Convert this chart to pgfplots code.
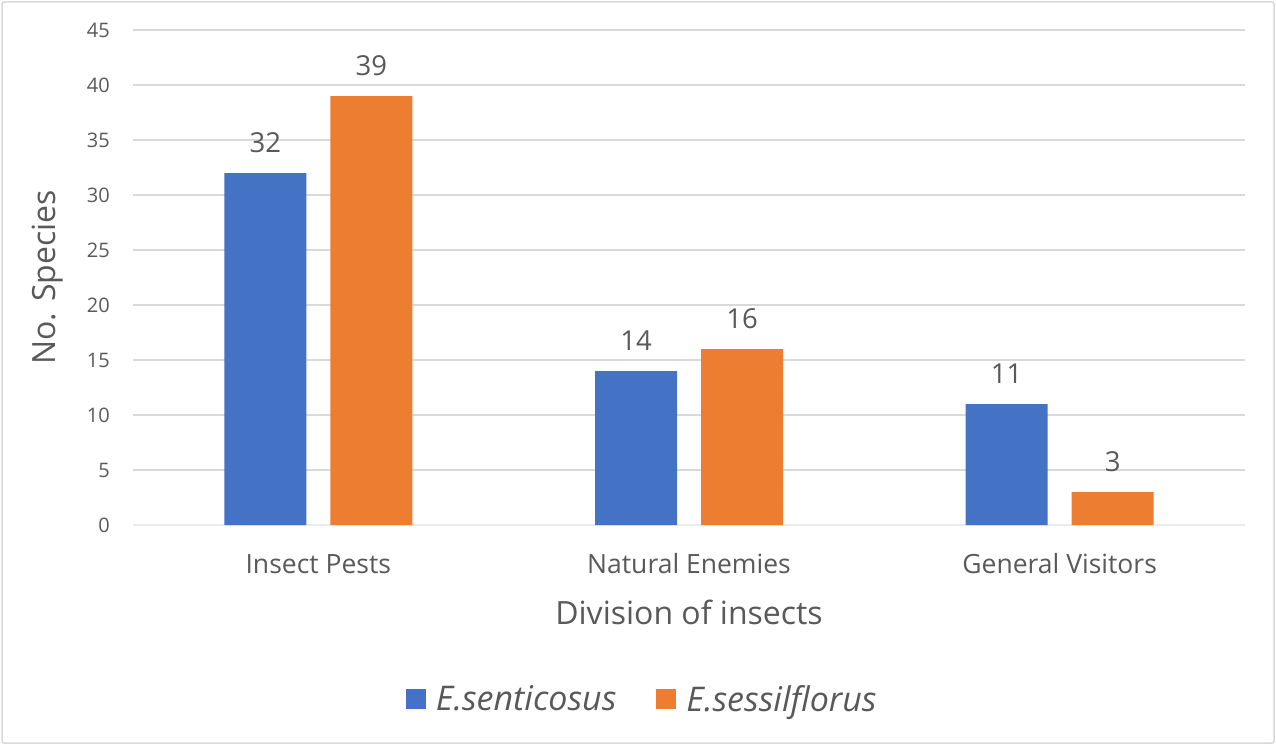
\documentclass[border=0pt]{standalone}
\usepackage{pgfplots}
\pgfplotsset{compat=1.18}
\usepackage{fontspec}
\setmainfont{Open Sans}

\definecolor{sblue}{HTML}{4472C4}
\definecolor{sorange}{HTML}{ED7D31}
\definecolor{txt}{HTML}{595959}
\definecolor{gridc}{HTML}{D9D9D9}

\begin{document}
\begin{tikzpicture}[x=1pt,y=1pt]
\path[use as bounding box] (0,0) rectangle (1276,745);
\draw[gridc, line width=1.5pt, rounded corners=2pt] (2,2) rectangle (1274,743);
\begin{axis}[
    at={(133pt,220pt)}, anchor=south west,
    scale only axis,
    width=1112pt, height=495pt,
    ybar=24pt, bar width=82pt,
    xmin=-0.5, xmax=2.5,
    ymin=0, ymax=45,
    xtick=data,
    xticklabels={Insect Pests,Natural Enemies,General Visitors},
    ytick={0,5,...,45},
    major tick length=0pt,
    axis line style={draw=none},
    ymajorgrids=true,
    grid style={gridc, line width=1.2pt},
    extra y ticks={0},
    extra y tick labels={},
    extra y tick style={grid style={gridc!120!gray, line width=1.5pt}},
    tick label style={text=txt},
    yticklabel style={font=\fontsize{20}{24}\selectfont, inner sep=0pt, anchor=east, xshift=-23pt},
    xticklabel style={font=\fontsize{26.5}{30}\selectfont, inner sep=0pt, anchor=base, yshift=-48pt},
    /pgf/number format/assume math mode=true,
    xlabel={Division of insects},
    xlabel style={font=\fontsize{32}{38}\selectfont, text=txt, at={(axis description cs:0.5,-0.176)}, anchor=center},
    ylabel={No. Species},
    ylabel style={font=\fontsize{32}{38}\selectfont, text=txt, at={(axis description cs:-0.077,0.5)}, anchor=center, rotate=0},
    nodes near coords,
    every node near coord/.append style={font=\fontsize{27.5}{32}\selectfont, text=txt, inner sep=0pt, anchor=south, yshift=20pt},
    legend style={at={(axis description cs:0.458,-0.352)}, anchor=center, draw=none, fill=none,
        legend columns=2, font=\fontsize{34}{39}\selectfont\itshape, text=txt,
        /tikz/every odd column/.append style={column sep=8pt},
        /tikz/every even column/.append style={column sep=38pt}},
    legend image code/.code={\fill[#1] (0pt,-10pt) rectangle (20pt,10pt);},
]
\addplot[fill=sblue, draw=none] coordinates {(0,32) (1,14) (2,11)};
\addplot[fill=sorange, draw=none] coordinates {(0,39) (1,16) (2,3)};
\legend{E.senticosus, E.sessilflorus}
\end{axis}
\end{tikzpicture}
\end{document}
